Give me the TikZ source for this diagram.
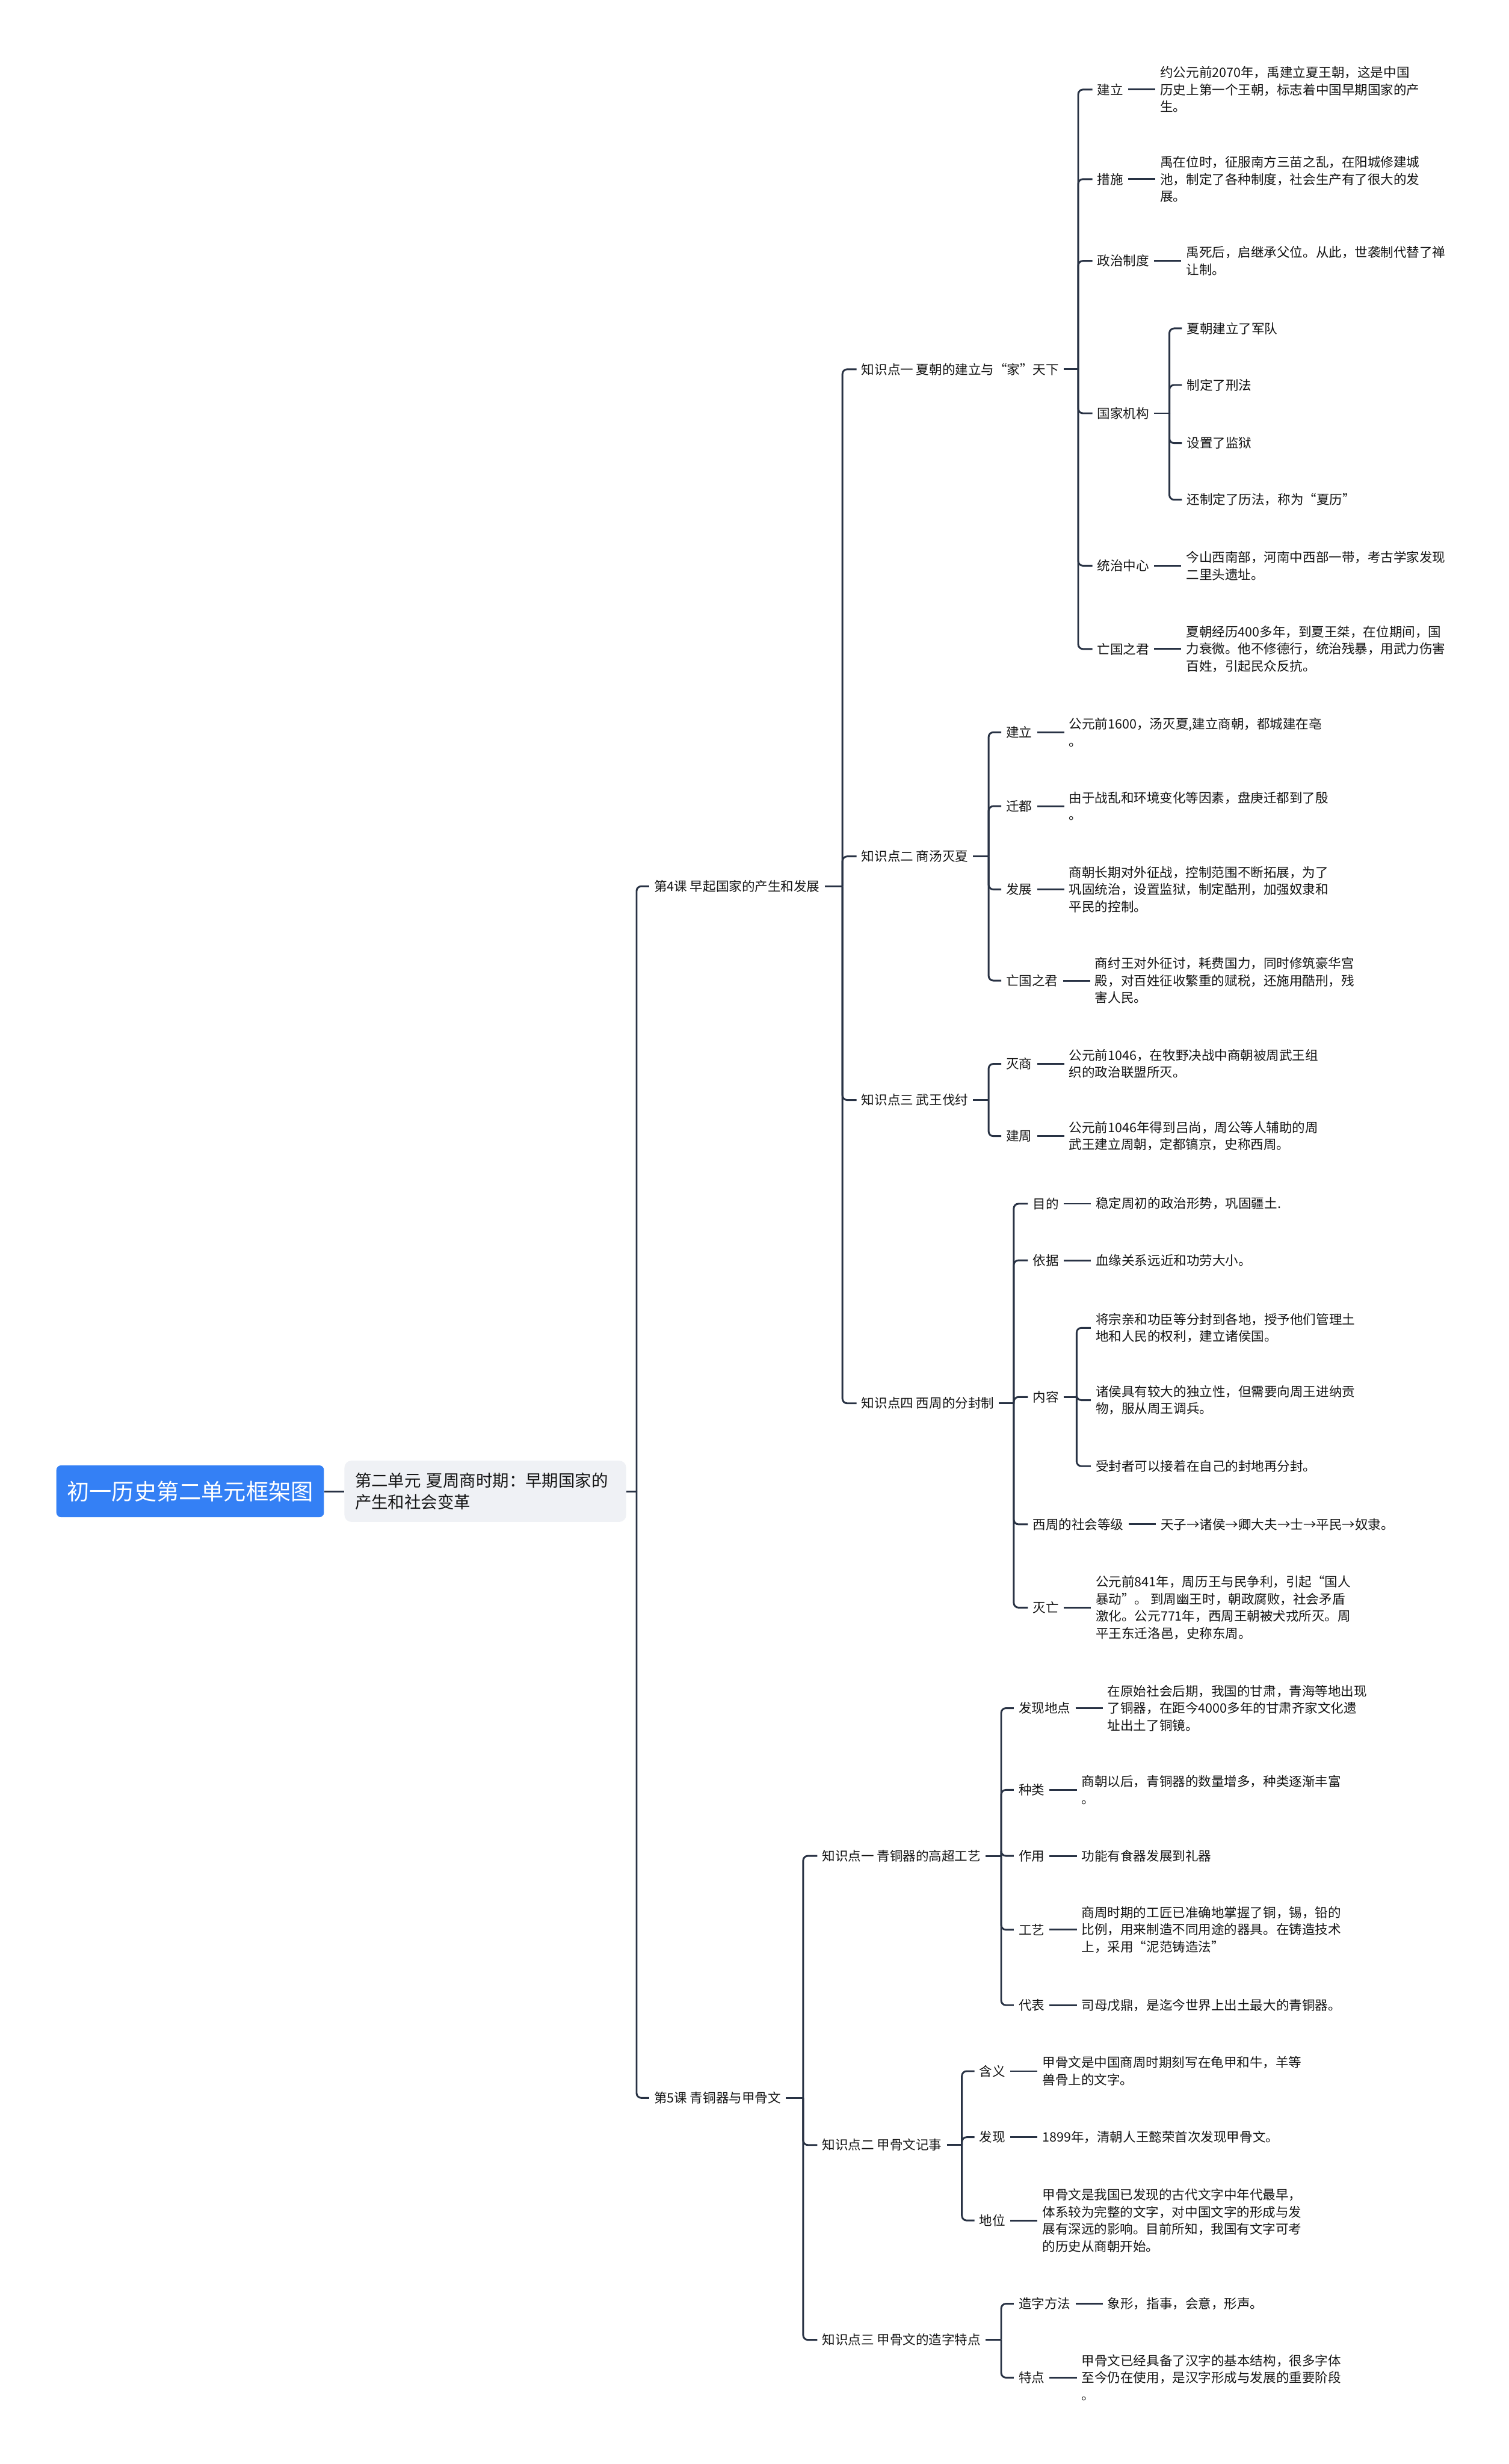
\documentclass[tikz,border=0pt]{standalone}
\usepackage{fontspec}
\setmainfont{Noto Sans CJK SC}
\usepackage{tikz}
\usetikzlibrary{positioning}
\definecolor{rootblue}{RGB}{52,128,245}
\definecolor{unitgrey}{RGB}{239,241,245}
\definecolor{linkc}{RGB}{40,50,68}
\definecolor{inkc}{RGB}{20,20,20}
\newcommand{\leaffont}{\fontsize{11}{14.6}\selectfont}
% parent -> trunk at x=#2 -> every child
\newcommand{\fork}[3]{%
  \draw[link] (#1.east) -- (#1.east -| #2,0);
  \foreach \kid in {#3}{\draw[link] (#1.east -| #2,0) |- (\kid.west);}
}
\begin{document}
\begin{tikzpicture}[
    x=1.3333pt, y=-1.3333pt,
    node distance=0pt and 23pt,
    link/.style={draw=linkc, line width=1.5pt, rounded corners=4pt},
    rootbox/.style={rectangle, rounded corners=4pt, fill=rootblue, text=white,
                    font=\fontsize{19}{23}\selectfont, inner xsep=8pt,
                    minimum height=44pt, minimum width=227pt},
    unitbox/.style={rectangle, rounded corners=6pt, fill=unitgrey, text=inkc,
                    align=left, text width=221pt, inner xsep=9pt, minimum height=52pt,
                    anchor=west, font=\fontsize{14}{18.7}\selectfont},
    topic/.style={anchor=west, inner xsep=4pt, inner ysep=1pt, font=\leaffont, text=inkc},
    leaf/.style={topic, align=left},
]
\useasboundingbox (0,0) rectangle (960,1568);
\fill[white] (0,0) rectangle (960,1568);

\node[rootbox] (root) at (121,949) {初一历史第二单元框架图};
\node[unitbox] (unit) at (219,949) {第二单元 夏周商时期：早期国家的\\产生和社会变革};
\draw[link] (root) -- (unit);

\node[topic] (les4) at (413,564)  {第4课 早起国家的产生和发展};
\node[topic] (les5) at (413,1335) {第5课 青铜器与甲骨文};
\fork{unit}{405}{les4,les5}

% lesson 4
\node[topic] (xia)   at (545,235) {知识点一 夏朝的建立与“家”天下};
\node[topic] (shang) at (545,545) {知识点二 商汤灭夏};
\node[topic] (wu)    at (545,700) {知识点三 武王伐纣};
\node[topic] (fen)   at (545,893) {知识点四 西周的分封制};
\fork{les4}{536}{xia,shang,wu,fen}

\node[topic] (xjl) at (695,57)  {建立};
\node[topic] (xcs) at (695,114) {措施};
\node[topic] (xzz) at (695,166) {政治制度};
\node[topic] (xgj) at (695,263) {国家机构};
\node[topic] (xtz) at (695,360) {统治中心};
\node[topic] (xwg) at (695,413) {亡国之君};
\fork{xia}{686}{xjl,xcs,xzz,xgj,xtz,xwg}

\node[leaf, right=of xjl] (txjl) {约公元前2070年，禹建立夏王朝，这是中国\\历史上第一个王朝，标志着中国早期国家的产\\生。};
\node[leaf, right=of xcs] (txcs) {禹在位时，征服南方三苗之乱，在阳城修建城\\池，制定了各种制度，社会生产有了很大的发\\展。};
\node[leaf, right=of xzz] (txzz) {禹死后，启继承父位。从此，世袭制代替了禅\\让制。};
\node[leaf, right=of xtz] (txtz) {今山西南部，河南中西部一带，考古学家发现\\二里头遗址。};
\node[leaf, right=of xwg] (txwg) {夏朝经历400多年，到夏王桀，在位期间，国\\力衰微。他不修德行，统治残暴，用武力伤害\\百姓，引起民众反抗。};

\node[topic] (xg1) at (752,209) {夏朝建立了军队};
\node[topic] (xg2) at (752,245) {制定了刑法};
\node[topic] (xg3) at (752,282) {设置了监狱};
\node[topic] (xg4) at (752,318) {还制定了历法，称为“夏历”};
\fork{xgj}{744}{xg1,xg2,xg3,xg4}

\node[topic] (sjl) at (637,466) {建立};
\node[topic] (sqd) at (637,513) {迁都};
\node[topic] (sfz) at (637,566) {发展};
\node[topic] (swg) at (637,624) {亡国之君};
\fork{shang}{629}{sjl,sqd,sfz,swg}

\node[leaf, right=of sjl] (tsjl) {公元前1600，汤灭夏,建立商朝，都城建在亳\\。};
\node[leaf, right=of sqd] (tsqd) {由于战乱和环境变化等因素，盘庚迁都到了殷\\。};
\node[leaf, right=of sfz] (tsfz) {商朝长期对外征战，控制范围不断拓展，为了\\巩固统治，设置监狱，制定酷刑，加强奴隶和\\平民的控制。};
\node[leaf, right=of swg] (tswg) {商纣王对外征讨，耗费国力，同时修筑豪华宫\\殿，对百姓征收繁重的赋税，还施用酷刑，残\\害人民。};

\node[topic] (wms) at (637,677) {灭商};
\node[topic] (wjz) at (637,723) {建周};
\fork{wu}{629}{wms,wjz}

\node[leaf, right=of wms] (twms) {公元前1046，在牧野决战中商朝被周武王组\\织的政治联盟所灭。};
\node[leaf, right=of wjz] (twjz) {公元前1046年得到吕尚，周公等人辅助的周\\武王建立周朝，定都镐京，史称西周。};

\node[topic] (fmd) at (654,766)  {目的};
\node[topic] (fyj) at (654,802)  {依据};
\node[topic] (fnr) at (654,889)  {内容};
\node[topic] (fdj) at (654,970)  {西周的社会等级};
\node[topic] (fmw) at (654,1023) {灭亡};
\fork{fen}{645}{fmd,fyj,fnr,fdj,fmw}

\node[leaf, right=of fmd] (tfmd) {稳定周初的政治形势，巩固疆土.};
\node[leaf, right=of fyj] (tfyj) {血缘关系远近和功劳大小。};
\node[leaf, right=of fdj] (tfdj) {天子→诸侯→卿大夫→士→平民→奴隶。};
\node[leaf, right=of fmw] (tfmw) {公元前841年，周历王与民争利，引起“国人\\暴动”。 到周幽王时，朝政腐败，社会矛盾\\激化。公元771年，西周王朝被犬戎所灭。周\\平王东迁洛邑，史称东周。};

\node[leaf] (fn1) at (694,845) {将宗亲和功臣等分封到各地，授予他们管理土\\地和人民的权利，建立诸侯国。};
\node[leaf] (fn2) at (694,891) {诸侯具有较大的独立性，但需要向周王进纳贡\\物，服从周王调兵。};
\node[leaf] (fn3) at (694,933) {受封者可以接着在自己的封地再分封。};
\fork{fnr}{685}{fn1,fn2,fn3}

% lesson 5
\node[topic] (tong) at (520,1181) {知识点一 青铜器的高超工艺};
\node[topic] (jia)  at (520,1365) {知识点二 甲骨文记事};
\node[topic] (zao)  at (520,1489) {知识点三 甲骨文的造字特点};
\fork{les5}{511}{tong,jia,zao}

\node[topic] (tfx) at (645,1087) {发现地点};
\node[topic] (tzl) at (645,1139) {种类};
\node[topic] (tzy) at (645,1181) {作用};
\node[topic] (tgy) at (645,1228) {工艺};
\node[topic] (tdb) at (645,1276) {代表};
\fork{tong}{637}{tfx,tzl,tzy,tgy,tdb}

\node[leaf, right=of tfx] (ttfx) {在原始社会后期，我国的甘肃，青海等地出现\\了铜器，在距今4000多年的甘肃齐家文化遗\\址出土了铜镜。};
\node[leaf, right=of tzl] (ttzl) {商朝以后，青铜器的数量增多，种类逐渐丰富\\。};
\node[leaf, right=of tzy] (ttzy) {功能有食器发展到礼器};
\node[leaf, right=of tgy] (ttgy) {商周时期的工匠已准确地掌握了铜，锡，铅的\\比例，用来制造不同用途的器具。在铸造技术\\上，采用“泥范铸造法”};
\node[leaf, right=of tdb] (ttdb) {司母戊鼎，是迄今世界上出土最大的青铜器。};

\node[topic] (jhy) at (620,1318) {含义};
\node[topic] (jfx) at (620,1360) {发现};
\node[topic] (jdw) at (620,1413) {地位};
\fork{jia}{612}{jhy,jfx,jdw}

\node[leaf, right=of jhy] (tjhy) {甲骨文是中国商周时期刻写在龟甲和牛，羊等\\兽骨上的文字。};
\node[leaf, right=of jfx] (tjfx) {1899年，清朝人王懿荣首次发现甲骨文。};
\node[leaf, right=of jdw] (tjdw) {甲骨文是我国已发现的古代文字中年代最早，\\体系较为完整的文字，对中国文字的形成与发\\展有深远的影响。目前所知，我国有文字可考\\的历史从商朝开始。};

\node[topic] (zff) at (645,1466) {造字方法};
\node[topic] (ztd) at (645,1513) {特点};
\fork{zao}{637}{zff,ztd}

\node[leaf, right=of zff] (tzff) {象形，指事，会意，形声。};
\node[leaf, right=of ztd] (tztd) {甲骨文已经具备了汉字的基本结构，很多字体\\至今仍在使用，是汉字形成与发展的重要阶段\\。};

% label -- text dashes
\foreach \n in {xjl,xcs,xzz,xtz,xwg,sjl,sqd,sfz,swg,wms,wjz,fmd,fyj,fdj,fmw,
                tfx,tzl,tzy,tgy,tdb,jhy,jfx,jdw,zff,ztd}
  \draw[link] (\n) -- (t\n);

\end{tikzpicture}
\end{document}
